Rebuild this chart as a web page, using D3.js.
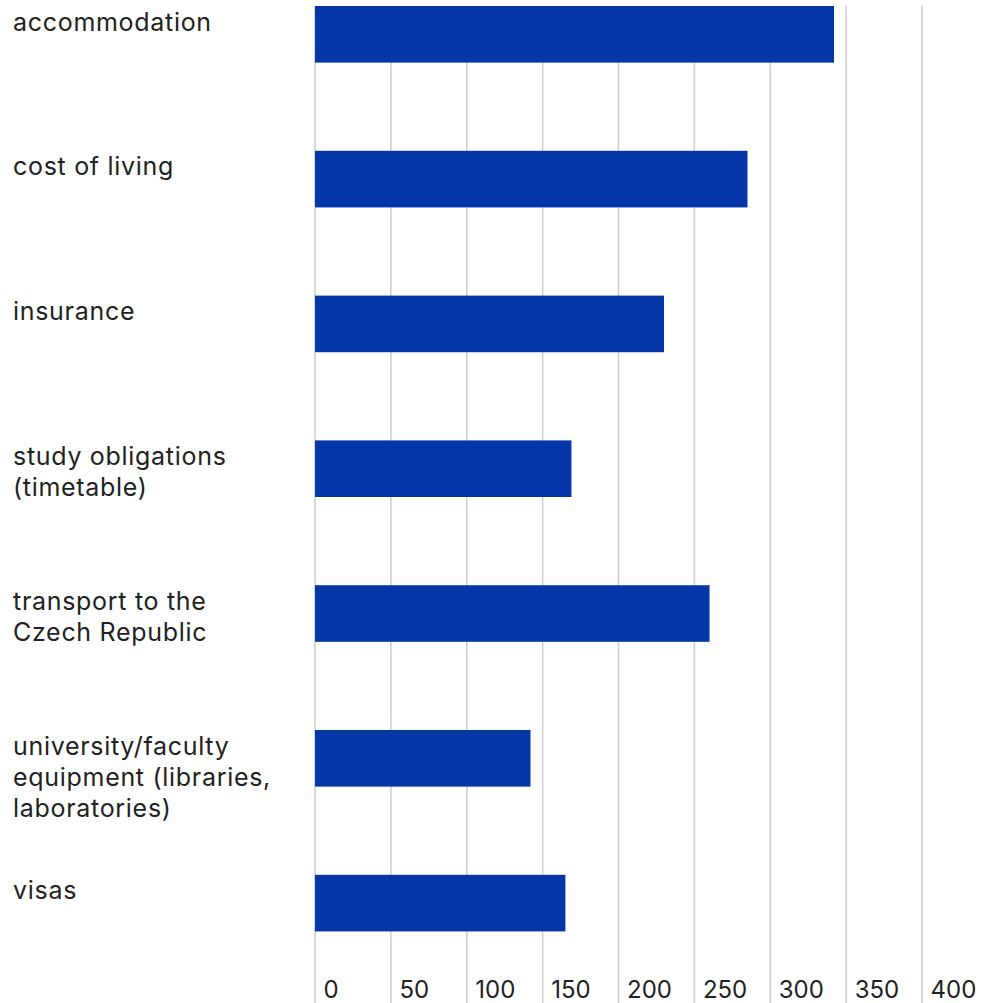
<!DOCTYPE html>
<html>
<head>
<meta charset="utf-8">
<script src="https://cdn.jsdelivr.net/npm/d3@7"></script>
<style>
  html, body { margin: 0; padding: 0; background: #fff; }
  svg { display: block; }
  text { font-family: Inter, "Noto Sans", sans-serif; fill: #222; }
</style>
</head>
<body>
<script>
const categories = [
  "accommodation",
  "cost of living",
  "insurance",
  "study obligations (timetable)",
  "transport to the Czech Republic",
  "university/faculty equipment (libraries, laboratories)",
  "visas"
];
const labelLines = [
  ["accommodation"],
  ["cost of living"],
  ["insurance"],
  ["study obligations", "(timetable)"],
  ["transport to the", "Czech Republic"],
  ["university/faculty", "equipment (libraries,", "laboratories)"],
  ["visas"]
];
const values = [342, 285, 230, 169, 260, 142, 165];
const tickValues = [0, 50, 100, 150, 200, 250, 300, 350, 400];

const W = 993, H = 1003;
const svg = d3.select("body").append("svg").attr("width", W).attr("height", H);

const x = d3.scaleLinear().domain([0, 400]).range([315, 922]);
const y = d3.scaleBand().domain(categories).range([6, 6 + 144.8 * (7 - 0.609)])
  .paddingInner(0.609).paddingOuter(0).align(0);

// gridlines
svg.append("g").selectAll("line").data(tickValues).join("line")
  .attr("x1", d => x(d)).attr("x2", d => x(d))
  .attr("y1", 6).attr("y2", H)
  .attr("stroke", "#cfcfcf").attr("stroke-width", 1.6);

// bars
svg.append("g").selectAll("rect").data(categories).join("rect")
  .attr("x", x(0))
  .attr("y", d => y(d))
  .attr("width", (d, i) => x(values[i]) - x(0))
  .attr("height", y.bandwidth())
  .attr("fill", "#0536a8");

// category labels
const lab = svg.append("g").selectAll("text").data(categories).join("text")
  .attr("x", 13)
  .attr("y", d => y(d) + 24.5)
  .style("font-size", "25px")
  .style("letter-spacing", "0.7px");
lab.each(function(d, i) {
  d3.select(this).selectAll("tspan").data(labelLines[i]).join("tspan")
    .attr("x", 13)
    .attr("dy", (t, j) => j === 0 ? 0 : 31)
    .text(t => t);
});

// tick labels
svg.append("g").selectAll("text").data(tickValues).join("text")
  .attr("x", d => x(d) + 8.5)
  .attr("y", 998)
  .style("font-size", "24px")
  .text(d => d);
</script>
</body>
</html>
